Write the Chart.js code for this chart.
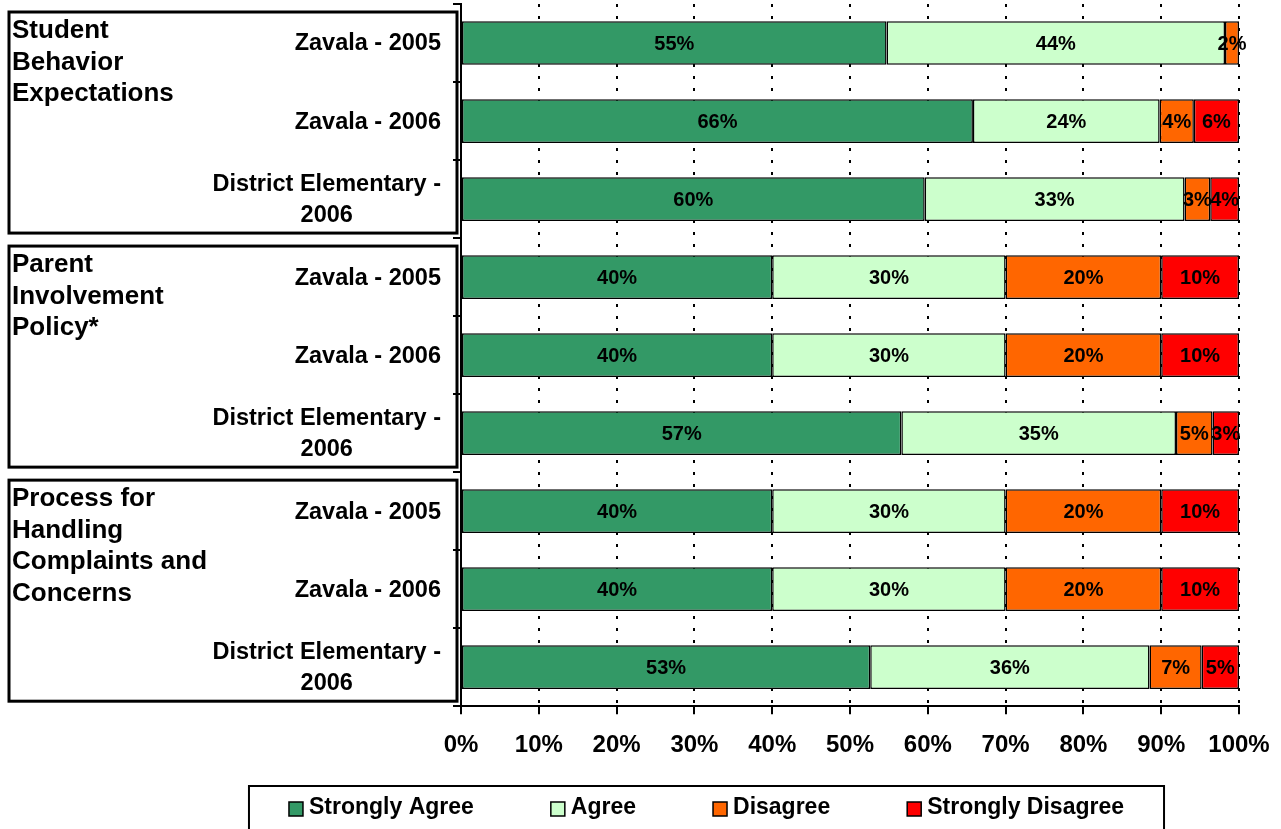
<!DOCTYPE html>
<html>
<head>
<meta charset="utf-8">
<title>Survey results</title>
<script src="https://cdn.jsdelivr.net/npm/chart.js@4.4.1/dist/chart.umd.min.js"></script>
<style>
  body { margin: 0; background: #fff; }
  canvas { display: block; }
</style>
</head>
<body>
<canvas id="myChart" width="1281" height="829"></canvas>
<script>
// group titles (left boxes), 3 rows each
var groupTitles = [
    ['Student', 'Behavior', 'Expectations'],
    ['Parent', 'Involvement', 'Policy*'],
    ['Process for', 'Handling', 'Complaints and', 'Concerns']
];
var rowLabels = [
    ['Zavala - 2005'], ['Zavala - 2006'], ['District Elementary -', '2006'],
    ['Zavala - 2005'], ['Zavala - 2006'], ['District Elementary -', '2006'],
    ['Zavala - 2005'], ['Zavala - 2006'], ['District Elementary -', '2006']
];
var seriesNames = ['Strongly Agree', 'Agree', 'Disagree', 'Strongly Disagree'];
var stronglyAgree    = [54.7, 65.8, 59.6, 40, 40, 56.6, 40, 40, 52.6];
var agree            = [43.5, 24.0, 33.4, 30, 30, 35.3, 30, 30, 35.9];
var disagree         = [1.8, 4.4, 3.3, 20, 20, 4.7, 20, 20, 6.7];
var stronglyDisagree = [0, 5.8, 3.7, 10, 10, 3.4, 10, 10, 4.8];
var xTickLabels = ['0%', '10%', '20%', '30%', '40%', '50%', '60%', '70%', '80%', '90%', '100%'];

var colors = ['#339966', '#CCFFCC', '#FF6600', '#FF0000'];
var fontMain = "'Liberation Sans', Arial, sans-serif";

var ctx = document.getElementById('myChart').getContext('2d');

// percent labels inside the bars
var barLabels = {
    id: 'barLabels',
    afterDatasetsDraw: function (chart) {
        var c = chart.ctx;
        c.save();
        c.font = 'bold 20px ' + fontMain;
        c.fillStyle = '#000';
        c.textAlign = 'center';
        c.textBaseline = 'middle';
        chart.data.datasets.forEach(function (ds, i) {
            chart.getDatasetMeta(i).data.forEach(function (bar, j) {
                var v = ds.data[j];
                if (!v) return;
                c.fillText(Math.round(v) + '%', (bar.x + bar.base) / 2, bar.y + 1);
            });
        });
        c.restore();
    }
};

// row labels, group boxes and legend
var sideLabels = {
    id: 'sideLabels',
    afterDraw: function (chart) {
        var c = chart.ctx;
        var y = chart.scales.y;
        var step = (y.bottom - y.top) / rowLabels.length;
        c.save();
        c.fillStyle = '#000';
        c.textBaseline = 'middle';

        // row labels
        c.font = 'bold 23.5px ' + fontMain;
        rowLabels.forEach(function (lines, i) {
            var cy = y.getPixelForValue(i);
            if (lines.length == 1) {
                c.textAlign = 'right';
                c.fillText(lines[0], 441, cy + 1);
            } else {
                var w = c.measureText(lines[0]).width;
                c.textAlign = 'center';
                c.fillText(lines[0], 441 - w / 2, cy - 15);
                c.fillText(lines[1], 441 - w / 2, cy + 16);
            }
        });

        // group boxes
        c.strokeStyle = '#000';
        c.lineWidth = 3;
        c.font = 'bold 26px ' + fontMain;
        c.textAlign = 'left';
        groupTitles.forEach(function (lines, g) {
            var top = y.top + g * 3 * step + 8;
            var bottom = y.top + (g + 1) * 3 * step - 5;
            c.strokeRect(9, top, 448, bottom - top);
            lines.forEach(function (t, k) {
                c.fillText(t, 12, top + 19 + k * 31.5);
            });
        });

        // legend
        c.font = 'bold 23px ' + fontMain;
        var box = 14, gapText = 6, gapItem = 77;
        var widths = seriesNames.map(function (n) { return box + gapText + c.measureText(n).width; });
        var total = widths.reduce(function (a, b) { return a + b; }, 0) + gapItem * (widths.length - 1);
        var x = 706.5 - total / 2;
        var ly = 808;
        c.lineWidth = 2;
        c.strokeRect(x - 40, 786, total + 80, 60);
        c.lineWidth = 1.5;
        seriesNames.forEach(function (n, i) {
            c.fillStyle = colors[i];
            c.fillRect(x, ly - box / 2 + 1, box, box);
            c.strokeRect(x, ly - box / 2 + 1, box, box);
            c.fillStyle = '#000';
            c.fillText(n, x + box + gapText, ly);
            x += widths[i] + gapItem;
        });
        c.restore();
    }
};

var datasets = [stronglyAgree, agree, disagree, stronglyDisagree].map(function (d, i) {
    return {
        label: seriesNames[i],
        data: d,
        backgroundColor: colors[i],
        borderColor: '#000',
        borderWidth: 1.5,
        borderSkipped: false,
        barPercentage: 0.56,
        categoryPercentage: 1
    };
});

var chart = new Chart(ctx, {
    type: 'bar',
    data: {
        labels: rowLabels.map(function (l) { return l.join(' '); }),
        datasets: datasets
    },
    options: {
        indexAxis: 'y',
        responsive: false,
        animation: false,
        events: [],
        layout: { padding: { top: 4, right: 42, bottom: 52, left: 0 } },
        plugins: {
            legend: { display: false },
            tooltip: { enabled: false }
        },
        scales: {
            x: {
                stacked: true,
                min: 0,
                max: 100,
                ticks: {
                    stepSize: 10,
                    autoSkip: false,
                    maxRotation: 0,
                    padding: 17,
                    color: '#000',
                    font: { family: fontMain, size: 24, weight: 'bold' },
                    callback: function (v, i) { return xTickLabels[i]; }
                },
                grid: {
                    color: '#000',
                    lineWidth: 2,
                    tickLength: 8,
                    tickWidth: 2
                },
                border: { display: true, color: '#000', width: 2, dash: [3, 9] },
                afterFit: function (s) { s.paddingLeft = 0; s.paddingRight = 0; }
            },
            y: {
                stacked: true,
                ticks: { display: false },
                grid: {
                    drawOnChartArea: false,
                    drawTicks: true,
                    tickLength: 8,
                    color: '#000',
                    lineWidth: 2
                },
                border: { display: true, color: '#000', width: 2 },
                afterFit: function (s) { s.width = 461; }
            }
        }
    },
    plugins: [barLabels, sideLabels]
});
</script>
</body>
</html>
